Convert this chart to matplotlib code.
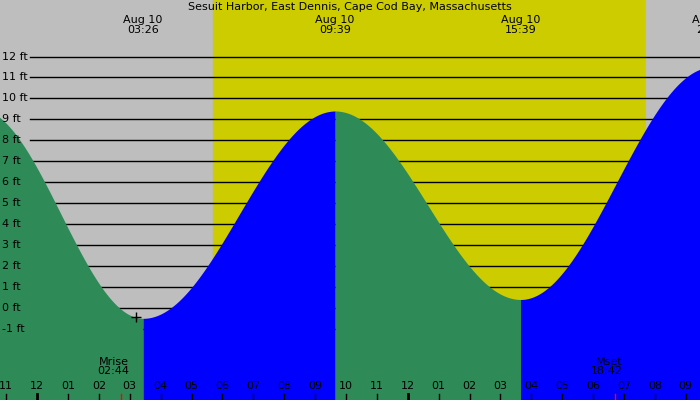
import numpy as np
import matplotlib
matplotlib.use("Agg")
import matplotlib.pyplot as plt

# tide extremes (hours from midnight Aug 10, height ft)
ext_t = [-1.9, 3.43, 9.65, 15.65, 21.85]
ext_h = [9.5, -0.5, 9.4, 0.4, 11.5]
top_labels = ["03:26", "09:39", "15:39", "21:50"]
top_t = [3.43, 9.65, 15.65, 21.85]
day_start, day_end = 5.7, 19.7
moon_t = [2.733, 18.7]
moon_lbl = ["Mrise\n02:44", "Mset\n18:42"]
hours = list(range(-1, 22))

X0, X1, Y0, Y1 = -1.2, 21.46, -4.4, 14.7
fig = plt.figure(figsize=(7, 4), dpi=100)
ax = fig.add_axes([0, 0, 1, 1])
ax.set_xlim(X0, X1); ax.set_ylim(Y0, Y1); ax.axis("off")
ax.axvspan(X0, day_start, color="#BEBEBE", zorder=0)
ax.axvspan(day_start, day_end, color="#CCCC00", zorder=0)
ax.axvspan(day_end, X1, color="#BEBEBE", zorder=0)

xs_lab = X0 + 30/700*(X1-X0)
for f in range(-1, 13):
    ax.plot([xs_lab, X1], [f, f], color="black", lw=1, zorder=1)
    ax.text(X0 + 2/700*(X1-X0), f, f"{f} ft", fontsize=8, va="center", ha="left", zorder=4)

for i in range(len(ext_t)-1):
    t = np.linspace(ext_t[i], ext_t[i+1], 200)
    a, b = ext_h[i], ext_h[i+1]
    h = a + (b-a)*(1-np.cos(np.pi*(t-ext_t[i])/(ext_t[i+1]-ext_t[i])))/2
    col = "#2E8B57" if b < a else "#0000FF"
    ax.fill_between(t, Y0, h, color=col, lw=0, zorder=2)

ax.plot([3.2], [-0.45], marker="+", color="black", ms=7, zorder=3)

ax.text((X0+X1)/2, 14.35, "Sesuit Harbor, East Dennis, Cape Cod Bay, Massachusetts",
        ha="center", va="center", fontsize=8, zorder=4)
for t, l in zip(top_t, top_labels):
    ax.text(t, 13.5, "Aug 10\n" + l, ha="center", va="center", fontsize=8,
            linespacing=0.95, zorder=4)

for hr in hours:
    lbl = f"{(hr % 12) or 12:02d}"
    ax.text(hr, -3.75, lbl, ha="center", va="center", fontsize=8, zorder=4)
    ax.plot([hr, hr], [Y0, Y0+0.3], color="black", lw=2 if hr % 12 == 0 else 1, zorder=4)
for t, l in zip(moon_t, moon_lbl):
    ax.plot([t, t], [Y0, Y0+0.3], color="red", lw=1, zorder=4)
    ax.text(t + 0.25, -2.8, l, ha="right", va="center", fontsize=8, linespacing=0.95, zorder=4)

fig.savefig("out.png", dpi=100)
